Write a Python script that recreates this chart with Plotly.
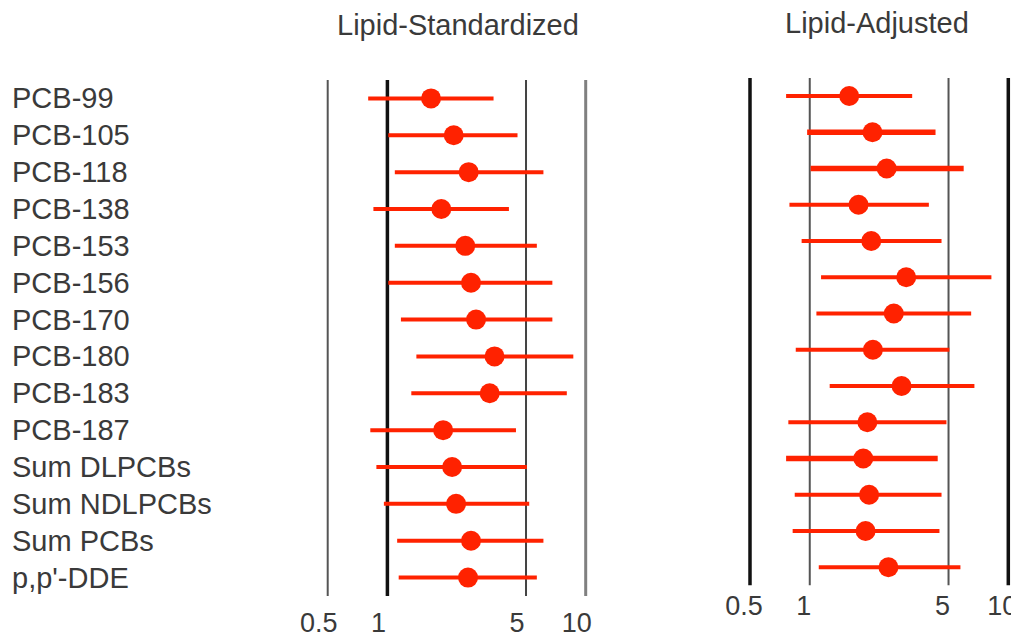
import plotly.graph_objects as go

categories = ["PCB-99", "PCB-105", "PCB-118", "PCB-138", "PCB-153", "PCB-156", "PCB-170",
              "PCB-180", "PCB-183", "PCB-187", "Sum DLPCBs", "Sum NDLPCBs", "Sum PCBs", "p,p'-DDE"]

std_est = [1.66, 2.16, 2.57, 1.87, 2.47, 2.64, 2.80, 3.47, 3.28, 1.91, 2.12, 2.22, 2.64, 2.55]
std_lo = [0.80, 1.01, 1.09, 0.85, 1.09, 1.01, 1.17, 1.40, 1.32, 0.82, 0.88, 0.96, 1.12, 1.14]
std_hi = [3.43, 4.53, 6.12, 4.10, 5.67, 6.79, 6.79, 8.66, 8.03, 4.45, 5.05, 5.19, 6.12, 5.67]

adj_est = [1.58, 2.07, 2.44, 1.76, 2.04, 3.06, 2.65, 2.08, 2.90, 1.95, 1.86, 1.99, 1.91, 2.49]
adj_lo = [0.76, 0.97, 1.01, 0.79, 0.91, 1.14, 1.08, 0.85, 1.26, 0.78, 0.76, 0.84, 0.82, 1.11]
adj_hi = [3.28, 4.30, 5.96, 3.98, 4.61, 8.22, 6.50, 5.05, 6.75, 4.88, 4.41, 4.61, 4.50, 5.74]

tick_vals = [0.5, 1, 5, 10]
tick_text = ["0.5", "1", "5", "10"]
panel_titles = ["Lipid-Standardized", "Lipid-Adjusted"]

RED = "#ff2200"
FONT = "Liberation Sans, Arial, sans-serif"
TXT = "#3a3a3a"
W, H = 1019, 637
OFF = 8  # page body margin

# reference line styles per panel (colour, width) for tick values
ref_styles = [
    [("#555555", 2), ("#111111", 3.5), ("#444444", 2), ("#808080", 3)],
    [("#111111", 3.5), ("#555555", 2), ("#555555", 2), ("#111111", 3.5)],
]
thick_rows = [set(), {"PCB-105", "PCB-118", "Sum DLPCBs"}]

ypos = list(range(len(categories)))
fig = go.Figure()

panels = [(std_est, std_lo, std_hi, "x", "y"), (adj_est, adj_lo, adj_hi, "x2", "y2")]
for p, (est, lo, hi, xa, ya) in enumerate(panels):
    for v, (col, w) in zip(tick_vals, ref_styles[p]):
        fig.add_trace(go.Scatter(x=[v, v], y=[ypos[0] - 0.5, ypos[-1] + 0.5], mode="lines",
                                 line=dict(color=col, width=w), xaxis=xa, yaxis=ya,
                                 showlegend=False, hoverinfo="skip"))
    for i, c in enumerate(categories):
        w = 5.5 if c in thick_rows[p] else 4
        fig.add_trace(go.Scatter(x=[lo[i], hi[i]], y=[ypos[i], ypos[i]], mode="lines",
                                 line=dict(color=RED, width=w), xaxis=xa, yaxis=ya,
                                 showlegend=False, hoverinfo="skip"))
    fig.add_trace(go.Scatter(x=est, y=ypos, mode="markers",
                             marker=dict(color=RED, size=20, line=dict(width=0)),
                             xaxis=xa, yaxis=ya, showlegend=False, text=categories))

for i, c in enumerate(categories):
    fig.add_annotation(x=(12 - OFF - 2) / W, xref="paper", xanchor="left", y=ypos[i], yref="y",
                       yanchor="middle", text=c, showarrow=False,
                       font=dict(family=FONT, size=29, color=TXT))

fig.add_annotation(x=(458 - OFF) / W, y=1 - (25 - OFF) / H, xref="paper", yref="paper",
                   text=panel_titles[0], showarrow=False, xanchor="center", yanchor="middle",
                   font=dict(family=FONT, size=29, color=TXT))
fig.add_annotation(x=(877 - OFF) / W, y=1 - (23 - OFF) / H, xref="paper", yref="paper",
                   text=panel_titles[1], showarrow=False, xanchor="center", yanchor="middle",
                   font=dict(family=FONT, size=29, color=TXT))

axis_common = dict(type="log", tickvals=tick_vals, ticktext=tick_text, showgrid=False,
                   zeroline=False, showline=False, ticks="", automargin=False,
                   tickfont=dict(family=FONT, size=27, color=TXT))

fig.update_layout(
    width=W, height=H,
    margin=dict(l=0, r=0, t=0, b=0, autoexpand=False),
    paper_bgcolor="white", plot_bgcolor="white",
    xaxis=dict(domain=[(320 - OFF) / W, (600 - OFF) / W], range=[-0.3399, 1.0721], anchor="y",
               ticklabelstandoff=8, ticklabelshift=-9, **axis_common),
    yaxis=dict(domain=[1 - (596 - OFF) / H, 1 - (80 - OFF) / H],
               range=[ypos[-1] + 0.5, ypos[0] - 0.5], visible=False, anchor="x",
               automargin=False),
    xaxis2=dict(domain=[(740 - OFF) / W, (1019 - OFF) / W], range=[-0.3514, 1.0539], anchor="y2",
                ticklabelstandoff=2, ticklabelshift=-6, **axis_common),
    yaxis2=dict(domain=[1 - (585.4 - OFF) / H, 1 - (77.9 - OFF) / H],
                range=[ypos[-1] + 0.5, ypos[0] - 0.5], visible=False, anchor="x2",
                automargin=False),
)

fig.write_html("out.html")
